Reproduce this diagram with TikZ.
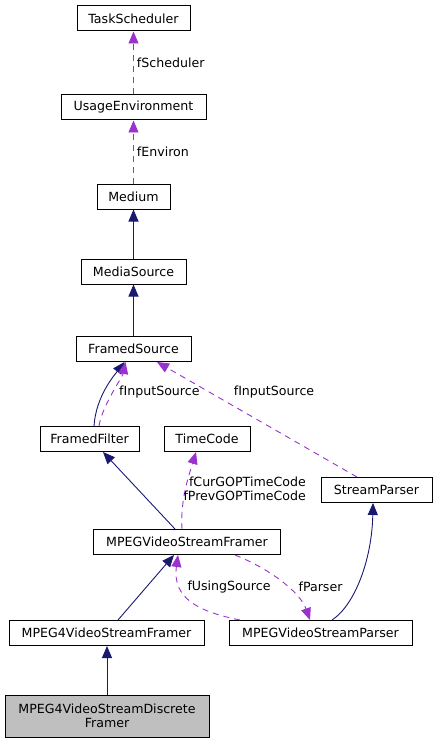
\documentclass[tikz,border=0pt]{standalone}
\usepackage{fontspec}
\setmainfont{DejaVu Sans}
\usepackage{tikz}
\usetikzlibrary{arrows.meta,positioning}
\definecolor{inhc}{RGB}{25,25,112}
\definecolor{usec}{RGB}{154,50,205}
\definecolor{selc}{RGB}{191,191,191}

\begin{document}
\begin{tikzpicture}[x=1pt,y=-1pt,font=\fontsize{12.6}{14.5}\selectfont,
  >={Triangle[length=12pt,width=10pt]},
  cls/.style={draw=black,line width=1pt,minimum height=25pt,inner sep=0pt},
  inh/.style={->,draw=inhc,line width=0.9pt},
  use/.style={->,draw=usec,line width=0.9pt,dash pattern=on 6pt off 5pt},
  lbl/.style={inner sep=0pt}]
  \useasboundingbox (0,0) rectangle (437,741);
  % classes
  \node[cls,minimum width=113pt] (task) at (133.5,18.5) {TaskScheduler};
  \node[cls,minimum width=145pt] (usage) at (133.5,107.5) {UsageEnvironment};
  \node[cls,minimum width=73pt] (medium) at (133.5,196.5) {Medium};
  \node[cls,minimum width=105pt] (msrc) at (133.5,271.5) {MediaSource};
  \node[cls,minimum width=115pt] (fsrc) at (133.5,349) {FramedSource};
  \node[cls,minimum width=99pt] (filt) at (89.5,439) {FramedFilter};
  \node[cls,minimum width=86pt] (tcode) at (207,439) {TimeCode};
  \node[cls,minimum width=111pt] (spar) at (376.5,490) {StreamParser};
  \node[cls,minimum width=187pt] (mvsf) at (187,542) {MPEGVideoStreamFramer};
  \node[cls,minimum width=195pt] (m4vsf) at (106.5,633) {MPEG4VideoStreamFramer};
  \node[cls,minimum width=183pt] (mvsp) at (320.5,633) {MPEGVideoStreamParser};
  \node[cls,fill=selc,minimum width=204pt,minimum height=42pt,align=center] (disc) at (107,716) {MPEG4VideoStreamDiscrete\\Framer};
  % top of the chain
  \draw[use] (usage.north) -- node[lbl,right=3pt] (lsched) {fScheduler} (task.south);
  \draw[use] (medium.north) -- node[lbl,right=3pt] (lenv) {fEnviron} (usage.south);
  \draw[inh] (msrc.north) -- (medium.south);
  \draw[inh] (fsrc.north) -- (msrc.south);
  % filter and parser: fInputSource
  \draw[inh] ([xshift=4.5pt]filt.north) .. controls +(2,-30) and +(-10,13) .. ([xshift=-9pt]fsrc.south);
  \draw[use] ([xshift=9.5pt]filt.north) .. controls +(3,-20) and +(-3,15) .. ([xshift=-8pt]fsrc.south);
  \node[lbl,anchor=west] (lin1) at (119,392) {fInputSource};
  \draw[use] ([xshift=-19.5pt]spar.north) -- ([xshift=23.5pt]fsrc.south);
  \node[lbl] (lin2) at (274,392) {fInputSource};
  % MPEGVideoStreamFramer
  \draw[inh] ([xshift=-12pt]mvsf.north) -- ([xshift=13.5pt]filt.south);
  \draw[use] ([xshift=-5pt]mvsf.north) .. controls +(-2,-30) and +(-6,20) .. ([xshift=-11pt]tcode.south);
  \node[lbl,align=right,anchor=east] (ltc) at (306,489) {fCurGOPTimeCode\\fPrevGOPTimeCode};
  % framer <-> parser
  \draw[inh] ([xshift=11.5pt]m4vsf.north) -- ([xshift=-13pt]mvsf.south);
  \draw[use] ([xshift=-80.5pt]mvsp.north) .. controls +(-40,-8) and +(-6,44) .. ([xshift=-9pt]mvsf.south);
  \node[lbl] (lusing) at (229,587) {fUsingSource};
  \draw[use] ([xshift=48pt]mvsf.south) .. controls +(35,14) and +(-10,-28) .. ([xshift=-10.5pt]mvsp.north);
  \node[lbl] (lparser) at (320.5,587) {fParser};
  \draw[inh] ([xshift=11.5pt]mvsp.north) .. controls +(23,-15) and +(-1,56) .. ([xshift=-3.5pt]spar.south);
  \draw[inh] (disc.north) -- (disc.north |- m4vsf.south);
\end{tikzpicture}
\end{document}
